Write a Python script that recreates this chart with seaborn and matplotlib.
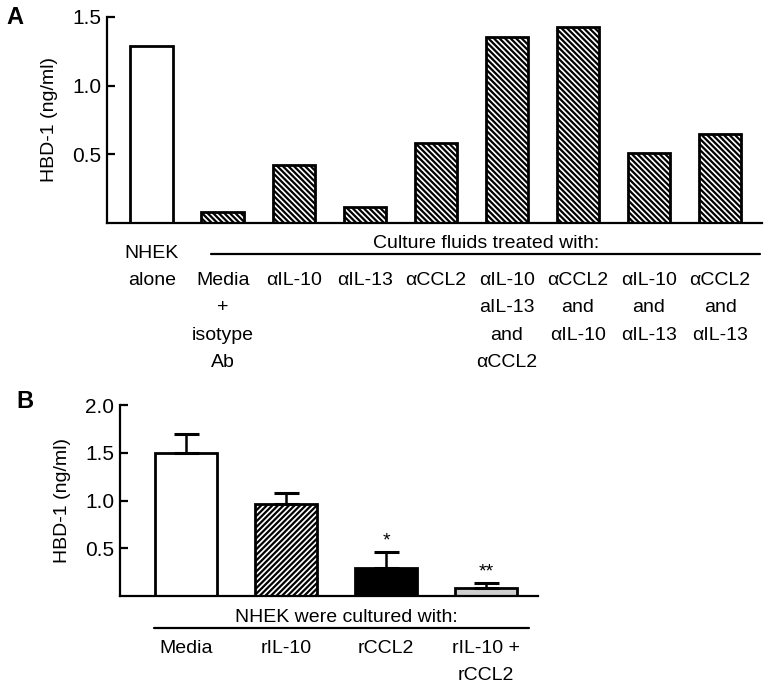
import numpy as np
import pandas as pd
import seaborn as sns
import matplotlib.pyplot as plt

# panel A data
a_keys = ['nhek', 'media', 'il10', 'il13', 'ccl2', 'triple', 'ccl2_il10', 'il10_il13', 'ccl2_il13']
a_values = [1.29, 0.08, 0.42, 0.115, 0.58, 1.355, 1.43, 0.51, 0.645]
a_labels = ['NHEK\nalone', 'Media\n+\nisotype\nAb', '\u03b1IL-10', '\u03b1IL-13', '\u03b1CCL2',
            '\u03b1IL-10\naIL-13\nand\n\u03b1CCL2', '\u03b1CCL2\nand\n\u03b1IL-10',
            '\u03b1IL-10\nand\n\u03b1IL-13', '\u03b1CCL2\nand\n\u03b1IL-13']
a_header = 'Culture fluids treated with:'
a_yticks = [0.5, 1.0, 1.5]

# panel B data
b_keys = ['media', 'ril10', 'rccl2', 'both']
b_values = [1.50, 0.96, 0.29, 0.08]
b_err = [0.20, 0.12, 0.17, 0.055]
b_labels = ['Media', 'rIL-10', 'rCCL2', 'rIL-10 +\nrCCL2']
b_stars = ['', '', '*', '**']
b_header = 'NHEK were cultured with:'
b_yticks = [0.5, 1.0, 1.5, 2.0]

sns.set_style('ticks')
plt.rcParams['font.family'] = ['Liberation Sans', 'DejaVu Sans']
plt.rcParams['hatch.linewidth'] = 1.6
plt.rcParams['axes.linewidth'] = 1.6
for k in ['text.color', 'axes.labelcolor', 'xtick.color', 'ytick.color', 'axes.edgecolor']:
    plt.rcParams[k] = 'black'

fig = plt.figure(figsize=(7.68, 6.88), dpi=100)
ax_a = fig.add_axes([0.1393, 0.6759, 0.8529, 0.2994])
ax_b = fig.add_axes([0.15625, 0.1337, 0.5443, 0.2776])

fs = 14

# ---- panel A
df_a = pd.DataFrame({'key': a_keys, 'value': a_values})
sns.barplot(data=df_a, x='key', y='value', order=a_keys, color='white',
            edgecolor='black', linewidth=2, width=0.6, saturation=1, ax=ax_a)
for p in ax_a.patches[1:]:
    p.set_hatch('\\' * 6)

ax_a.set_xlim(-0.63, 8.59)
ax_a.set_ylim(0, 1.5)
ax_a.set_yticks(a_yticks)
ax_a.set_yticklabels([f'{t:.1f}' for t in a_yticks], fontsize=15)
ax_a.set_xticks([])
ax_a.set_xlabel('')
ax_a.set_ylabel('HBD-1 (ng/ml)', fontsize=fs, labelpad=10)
ax_a.tick_params(axis='y', direction='in', length=6, width=1.6, pad=4)
sns.despine(ax=ax_a)

for i, lab in enumerate(a_labels):
    off = -22 if i == 0 else -49
    ax_a.annotate(lab, xy=(i, 0), xycoords=('data', 'axes fraction'),
                  xytext=(0, off), textcoords='offset pixels',
                  ha='center', va='top', fontsize=fs, linespacing=1.8)

ax_a.plot([0.83, 8.56], [-0.153, -0.153], color='black', lw=1.6,
          transform=ax_a.get_xaxis_transform(), clip_on=False)
ax_a.text(4.7, -0.102, a_header, transform=ax_a.get_xaxis_transform(),
          ha='center', va='center', fontsize=fs)

# ---- panel B
df_b = pd.DataFrame({'key': b_keys, 'value': b_values})
sns.barplot(data=df_b, x='key', y='value', order=b_keys, color='white',
            edgecolor='black', linewidth=2, width=0.62, saturation=1, ax=ax_b)
ax_b.patches[1].set_hatch('/' * 6)
ax_b.patches[2].set_facecolor('black')
ax_b.patches[3].set_facecolor('#cfcfcf')

xpos = np.arange(len(b_keys))
ax_b.errorbar(xpos, b_values, yerr=[np.zeros(len(b_err)), b_err], fmt='none',
              ecolor='black', elinewidth=1.8, capsize=9, capthick=2.2, zorder=1)
for x, v, e, s in zip(xpos, b_values, b_err, b_stars):
    if s:
        ax_b.annotate(s, xy=(x, v + e), xytext=(0, 2), textcoords='offset points',
                      ha='center', va='bottom', fontsize=14)

ax_b.set_xlim(-0.66, 3.52)
ax_b.set_ylim(0, 2.0)
ax_b.set_yticks(b_yticks)
ax_b.set_yticklabels([f'{t:.1f}' for t in b_yticks], fontsize=15)
ax_b.set_xticks([])
ax_b.set_xlabel('')
ax_b.set_ylabel('HBD-1 (ng/ml)', fontsize=fs, labelpad=10)
ax_b.tick_params(axis='y', direction='in', length=6, width=1.6, pad=4)
sns.despine(ax=ax_b)

for i, lab in enumerate(b_labels):
    ax_b.annotate(lab, xy=(i, 0), xycoords=('data', 'axes fraction'),
                  xytext=(0, -44), textcoords='offset pixels',
                  ha='center', va='top', fontsize=fs, linespacing=1.8)

ax_b.plot([-0.32, 3.43], [-0.168, -0.168], color='black', lw=1.6,
          transform=ax_b.get_xaxis_transform(), clip_on=False)
ax_b.text(1.6, -0.11, b_header, transform=ax_b.get_xaxis_transform(),
          ha='center', va='center', fontsize=fs)

fig.text(15 / 768, 1 - 17 / 688, 'A', fontsize=17, fontweight='bold', ha='center', va='center')
fig.text(25 / 768, 1 - 402 / 688, 'B', fontsize=17, fontweight='bold', ha='center', va='center')

fig.savefig('out.png', dpi=100)
